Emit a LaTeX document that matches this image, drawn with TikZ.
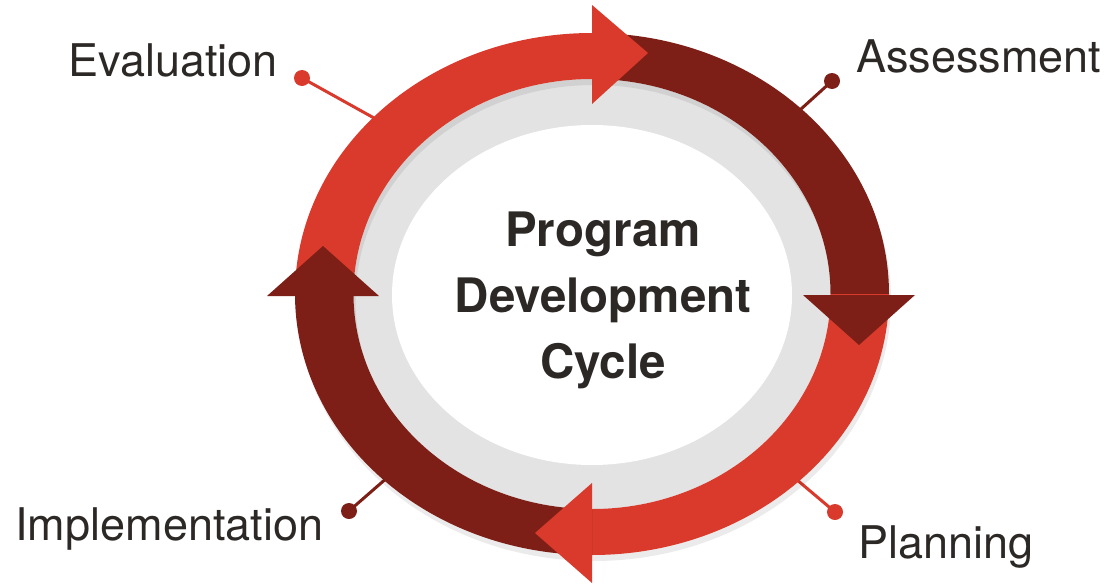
\documentclass[tikz,border=0pt]{standalone}
\usepackage{fontspec}
\setmainfont{TeX Gyre Heros}
\usepackage{xcolor}
\usetikzlibrary{positioning,calc}

\definecolor{cyclered}{HTML}{D93A2B}
\definecolor{cycledark}{HTML}{7E1F17}
\definecolor{ringgray}{HTML}{E3E3E3}
\definecolor{labelgray}{HTML}{2B2826}

\begin{document}
\begin{tikzpicture}[x=0.5pt, y=-0.5pt,
  stage/.style={font=\fontsize{22.5}{27}\selectfont, text=labelgray, inner sep=0pt, anchor=base west},
  stage dot/.style={circle, minimum size=8pt, inner sep=0pt},
  stage line/.style={line width=1.5pt}]

\useasboundingbox (0,0) rectangle (1115,584);
\coordinate (c) at (592,294);

% leader lines, under the ring
\foreach \n/\dx/\dy/\ex/\ey/\col in {eval/302/78/392/128/cyclered, assess/832/81/790/119/cycledark,
    impl/349/511/396/470/cycledark, plan/835/512/790/474/cyclered} {
  \node [stage dot, fill=\col] (\n-dot) at (\dx,\dy) {};
  \coordinate (\n-end) at (\ex,\ey);
  \draw [stage line, draw=\col] (\n-dot.center) -- (\n-end);
}

% inner disc
\fill [ringgray] (c) ellipse [x radius=238.5, y radius=215];
\fill [white] (592,295) ellipse [x radius=200, y radius=170];
\fill [black, opacity=0.08, even odd rule]
  ([shift={(2,6)}]c) ellipse [x radius=297, y radius=261]
  ([shift={(2,6)}]c) ellipse [x radius=238.5, y radius=215];

% ring bands
\foreach \a/\col in {180/cyclered, 270/cycledark, 0/cyclered, 90/cycledark}
  \fill [\col] ($(c)+(\a:297 and 261)$)
    arc [start angle=\a, delta angle=90, x radius=297, y radius=261]
    -- ($(c)+(\a+90:238.5 and 215)$)
    arc [start angle=\a+90, delta angle=-90, x radius=238.5, y radius=215] -- cycle;

% arrow heads
\foreach \ax/\ay/\bx/\by/\tx/\ty/\col in {592/5/592/104/648/53/cyclered, 803/295/915/295/859/345/cycledark,
    592/483/592/583/535/533/cyclered, 267/296/379/296/323/246/cycledark}
  \fill [\col] (\ax,\ay) -- (\bx,\by) -- (\tx,\ty) -- cycle;

\node [align=center, font=\bfseries\fontsize{23.75}{33}\selectfont, text=labelgray] (title)
  at (603,300) {Program\\Development\\Cycle};

\node [stage] (eval) at (68,76) {Evaluation};
\node [stage] (assess) at (856,72) {Assessment};
\node [stage] (impl) at (15,540) {Implementation};
\node [stage] (plan) at (858,558) {Planning};

\end{tikzpicture}
\end{document}
